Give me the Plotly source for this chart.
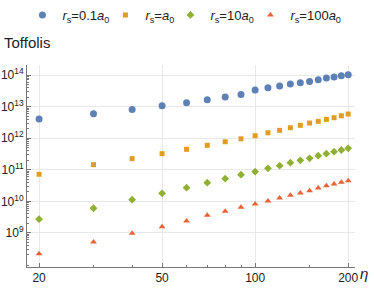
import plotly.graph_objects as go

eta = [20, 30, 40, 50, 60, 70, 80, 90, 100, 110, 120, 130, 140, 150, 160, 170, 180, 190, 200]

t_01 = [4.05e12, 5.97e12, 8.2e12, 1.07e13, 1.33e13, 1.66e13, 2.01e13, 2.45e13, 3.35e13, 3.98e13,
        4.49e13, 5.19e13, 5.72e13, 6.3e13, 7.1e13, 8.04e13, 8.65e13, 9.5e13, 1.02e14]
t_1 = [7.2e10, 1.45e11, 2.25e11, 3.24e11, 4.46e11, 5.96e11, 7.74e11, 9.6e11, 1.2e12, 1.49e12,
       1.78e12, 2.15e12, 2.56e12, 3.03e12, 3.43e12, 3.96e12, 4.46e12, 5.15e12, 5.83e12]
t_10 = [2.72e9, 6.05e9, 1.13e10, 1.8e10, 2.72e10, 3.91e10, 5.22e10, 7.0e10, 8.7e10, 1.11e11,
        1.35e11, 1.68e11, 2.0e11, 2.31e11, 2.79e11, 3.24e11, 3.74e11, 4.24e11, 4.79e11]
t_100 = [2.17e8, 5.2e8, 9.8e8, 1.58e9, 2.38e9, 3.63e9, 4.86e9, 6.5e9, 8.28e9, 1.03e10,
         1.28e10, 1.56e10, 1.85e10, 2.18e10, 2.66e10, 3.14e10, 3.56e10, 4.02e10, 4.52e10]

names = ["<i>r</i><sub>s</sub>=0.1<i>a</i><sub>0</sub>",
         "<i>r</i><sub>s</sub>=<i>a</i><sub>0</sub>",
         "<i>r</i><sub>s</sub>=10<i>a</i><sub>0</sub>",
         "<i>r</i><sub>s</sub>=100<i>a</i><sub>0</sub>"]
colors = ["#5E81B5", "#E19C24", "#8FB032", "#EB6235"]
symbols = ["circle", "square", "diamond", "triangle-up"]
sizes = [7, 5, 6, 6]
legend_widths = [38, 20, 35, 55]

x_ticks = [20, 50, 100, 200]
x_labels = ["20", "50", "100", "200"]
y_ticks = [1e9, 1e10, 1e11, 1e12, 1e13, 1e14]
y_labels = ["10<sup>9</sup>", "10<sup>10</sup>", "10<sup>11</sup>", "10<sup>12</sup>",
            "10<sup>13</sup>", "10<sup>14</sup>"]

fig = go.Figure()
for ys, nm, c, s, sz, lw in zip([t_01, t_1, t_10, t_100], names, colors, symbols, sizes, legend_widths):
    fig.add_trace(go.Scatter(x=eta, y=ys, mode="markers", name=nm, legendwidth=lw,
                             marker=dict(color=c, symbol=s, size=sz, line=dict(width=0))))

x_minor = [30, 40, 60, 70, 80, 90, 150]
y_minor = [m * 10 ** e for e in range(7, 15) for m in range(2, 10)]

font = "Liberation Sans, Arial, sans-serif"
fig.update_layout(
    width=374, height=289,
    margin=dict(l=27, r=19, t=65, b=22, autoexpand=False),
    paper_bgcolor="white", plot_bgcolor="white",
    font=dict(family=font, size=12, color="#222"),
    showlegend=True,
    legend=dict(orientation="h", xref="container", x=0.06, xanchor="left",
                yref="container", y=1.0, yanchor="top",
                font=dict(size=13, color="#222"),
                itemwidth=30, tracegroupgap=0),
    xaxis=dict(type="log", range=[1.262, 2.323], automargin=False,
               tickmode="array", tickvals=x_ticks, ticktext=x_labels,
               tickfont=dict(size=12),
               showgrid=True, gridcolor="#e8e8e8", gridwidth=1,
               showline=True, linecolor="#777", linewidth=1,
               ticks="inside", ticklen=4, tickcolor="#777",
               minor=dict(tickmode="array", tickvals=x_minor, ticks="inside",
                          ticklen=2, tickcolor="#777", showgrid=False),
               zeroline=False),
    yaxis=dict(type="log", range=[7.92, 14.32], automargin=False,
               tickmode="array", tickvals=y_ticks, ticktext=y_labels,
               tickfont=dict(size=12),
               showgrid=True, gridcolor="#e8e8e8", gridwidth=1,
               showline=True, linecolor="#777", linewidth=1,
               ticks="inside", ticklen=4, tickcolor="#777",
               minor=dict(tickmode="array", tickvals=y_minor, ticks="inside",
                          ticklen=2, tickcolor="#777", showgrid=False),
               zeroline=False),
)
fig.add_annotation(text="Toffolis", x=-25 / 328, xanchor="left", y=1 + 12 / 202, yanchor="bottom",
                   xref="paper", yref="paper", showarrow=False,
                   font=dict(size=15, color="#222", family=font))
fig.add_annotation(text="<i>η</i>", x=1 + 3 / 328, xanchor="left", y=0, yanchor="middle",
                   yshift=-6, xref="paper", yref="paper", showarrow=False,
                   font=dict(size=15, color="#222", family=font))

fig.write_html("out.html", config={"displayModeBar": False},
               post_script="document.body.style.margin='0';document.body.style.overflow='hidden';")
